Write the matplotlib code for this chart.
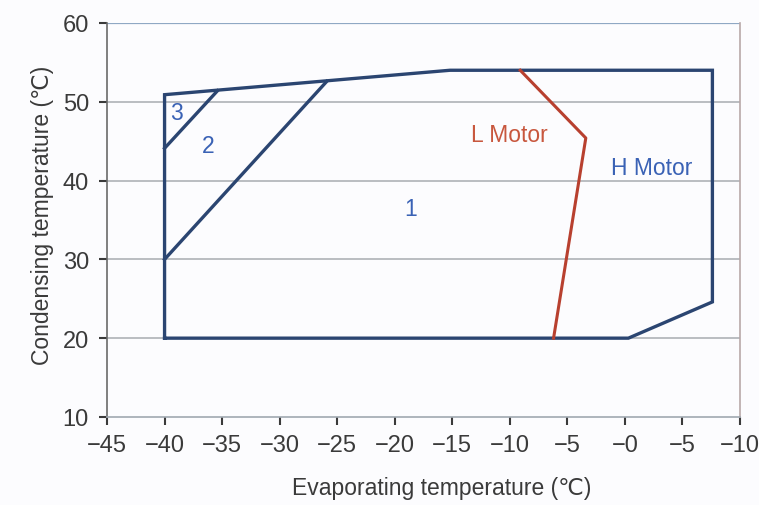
import matplotlib
matplotlib.use("Agg")
import matplotlib.pyplot as plt

# Data
h_x = [-40, -40, -15.2, 7.6, 7.6, 0.3, -40]
h_y = [20, 50.9, 54.0, 54.0, 24.6, 20, 20]
line2_x = [-40, -25.9]
line2_y = [30, 52.6]
line3_x = [-40, -35.4]
line3_y = [44.1, 51.4]
l_x = [-9.1, -3.4, -6.2]
l_y = [54.0, 45.4, 20]
xticks = [-45, -40, -35, -30, -25, -20, -15, -10, -5, 0, 5, 10]
xtick_labels = ["\u221245", "\u221240", "\u221235", "\u221230", "\u221225", "\u221220",
                "\u221215", "\u221210", "\u22125", "\u22120", "\u22125", "\u221210"]
yticks = [10, 20, 30, 40, 50, 60]

plt.rcParams['font.family'] = ['Liberation Sans', 'DejaVu Sans']

fig = plt.figure(figsize=(7.59, 5.06), dpi=100)
fig.patch.set_facecolor('#fcfcfe')
ax = fig.add_axes([0.141, 0.174, 0.834, 0.7786])
ax.set_facecolor('#fcfcfe')
ax.set_xlim(-45, 10)
ax.set_ylim(10, 60)

for y in [20, 30, 40, 50]:
    ax.axhline(y, color='#b4b8bc', lw=1.3, zorder=1)
ax.axhline(60, color='#8fa8c4', lw=1.6, zorder=1)

navy = '#2b4571'
ax.plot(h_x, h_y, color=navy, lw=2.4, solid_joinstyle='miter', zorder=3)
ax.plot(line2_x, line2_y, color=navy, lw=2.4, zorder=3)
ax.plot(line3_x, line3_y, color=navy, lw=2.4, zorder=3)
ax.plot(l_x, l_y, color='#b8402f', lw=2.2, zorder=3)

blue = '#3a62b5'
fs = 16.5
ax.text(-39.0, 48.6, "3", color=blue, fontsize=fs, ha='center', va='center')
ax.text(-36.2, 44.4, "2", color=blue, fontsize=fs, ha='center', va='center')
ax.text(-18.6, 36.4, "1", color=blue, fontsize=fs, ha='center', va='center')
ax.text(-10.0, 45.9, "L Motor", color='#c8573e', fontsize=fs, ha='center', va='center')
ax.text(2.3, 41.7, "H Motor", color=blue, fontsize=fs, ha='center', va='center')

ax.set_xticks(xticks)
ax.set_xticklabels(xtick_labels)
ax.set_yticks(yticks)
ax.tick_params(axis='both', labelsize=17, colors='#3a3a3a', length=6, width=1.5, direction='out')
ax.tick_params(axis='x', pad=6)
ax.tick_params(axis='y', pad=7)

ax.spines['top'].set_visible(False)
ax.spines['left'].set_color('#6a6a6a')
ax.spines['bottom'].set_color('#a0a8b0')
ax.spines['right'].set_color('#b8a8a8')
for s in ['left', 'bottom', 'right']:
    ax.spines[s].set_linewidth(1.2)

ax.set_xlabel("Evaporating temperature (\u2103)", fontsize=16.5, color='#3a3a3a')
ax.set_ylabel("Condensing temperature (\u2103)", fontsize=16.5, color='#3a3a3a')
ax.xaxis.set_label_coords(0.528, -0.150)
ax.yaxis.set_label_coords(-0.084, 0.513)

fig.savefig("out.png", dpi=100, facecolor=fig.get_facecolor())
